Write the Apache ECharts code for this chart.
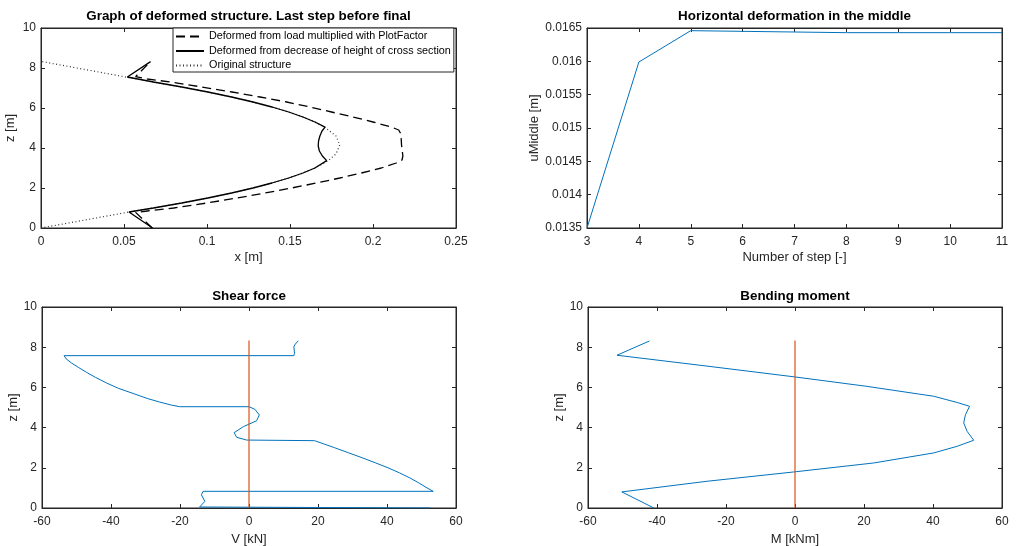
<!DOCTYPE html>
<html><head><meta charset="utf-8">
<script src="https://cdn.jsdelivr.net/npm/echarts@6/dist/echarts.min.js"></script>
<style>html,body{margin:0;padding:0;background:#fff}#c{width:1018px;height:546px}</style>
</head><body><div id="c"></div>
<script>
// ---------- Top-left: deformed structure ----------
const origZ = [0, 0.8, 1.0, 1.25, 1.5, 1.75, 2.0, 2.25, 2.5, 2.75, 3.0, 3.35, 3.7, 4.15, 4.6, 5.05, 5.3, 5.55, 5.8, 6.05, 6.3, 6.55, 6.8, 7.05, 7.3, 7.52, 8.33];
const origX = [0, 0.053, 0.0677, 0.0848, 0.1005, 0.1148, 0.1277, 0.1391, 0.1492, 0.1578, 0.165, 0.1728, 0.1777, 0.18, 0.1777, 0.1708, 0.165, 0.1578, 0.1492, 0.1391, 0.1277, 0.1148, 0.1005, 0.0848, 0.0677, 0.053, 0];
const solidZ = [0, 0.8, 1.0, 1.25, 1.5, 1.75, 2.0, 2.25, 2.5, 2.75, 3.0, 3.37, 3.6, 3.85, 4.1, 4.35, 4.6, 4.85, 5.04, 5.3, 5.55, 5.8, 6.05, 6.3, 6.55, 6.8, 7.05, 7.3, 7.55, 8.32];
const solidX = [0.0672, 0.053, 0.0677, 0.0848, 0.1005, 0.1148, 0.1277, 0.1391, 0.1492, 0.1578, 0.165, 0.1721, 0.1695, 0.1677, 0.167, 0.1672, 0.168, 0.1693, 0.1711, 0.165, 0.1578, 0.1492, 0.1391, 0.1277, 0.1148, 0.1005, 0.0848, 0.0677, 0.052, 0.066];
const dashZ = [0, 0.78, 0.85, 1.0, 1.25, 1.5, 1.75, 2.0, 2.25, 2.5, 2.75, 3.0, 3.25, 3.4, 3.6, 4.15, 4.7, 4.9, 5.05, 5.3, 5.55, 5.8, 6.05, 6.3, 6.55, 6.8, 7.05, 7.3, 7.45, 7.57, 8.32];
const dashX = [0.067, 0.057, 0.064, 0.08, 0.1, 0.118, 0.135, 0.151, 0.166, 0.18, 0.193, 0.205, 0.214, 0.2175, 0.218, 0.2172, 0.2168, 0.2155, 0.211, 0.2, 0.188, 0.175, 0.162, 0.148, 0.132, 0.115, 0.097, 0.078, 0.064, 0.057, 0.066];
// ---------- Top-right: horizontal deformation ----------
const steps = [3, 4, 5, 6, 7, 8, 9, 10, 11];
const uMiddle = [0.0135, 0.01599, 0.01646, 0.01645, 0.01644, 0.01643, 0.01643, 0.01643, 0.01643];
// ---------- Bottom-left: shear force ----------
const shearZ = [8.32, 8.15, 8.02, 7.7, 7.58, 7.58, 7.42, 7.22, 7.0, 6.75, 6.5, 6.22, 5.95, 5.7, 5.45, 5.27, 5.12, 5.04, 5.04, 4.91, 4.63, 4.34, 4.05, 3.75, 3.52, 3.38, 3.35, 3.2, 3.0, 2.75, 2.5, 2.25, 2.0, 1.75, 1.5, 1.25, 1.0, 0.83, 0.83, 0.66, 0.33, 0.05, 0, 0];
const shearV = [14.3, 13.4, 13.0, 13.2, 13.0, -53.6, -53.0, -51.5, -49.5, -47.1, -44.5, -41.3, -37.8, -33.6, -29.5, -25.9, -22.5, -20.1, 0, 1.7, 3.0, 2.2, -1.6, -4.3, -3.6, -0.7, 19.0, 21.5, 24.8, 28.8, 32.8, 36.6, 40.3, 43.6, 46.6, 49.2, 51.6, 53.4, -13.3, -13.8, -12.8, -14.3, -14.3, 52.5];
const zeroZ = [0, 8.33];
const zeroV = [0, 0];
// ---------- Bottom-right: bending moment ----------
const momZ = [8.31, 7.6, 7.06, 6.52, 6.06, 5.56, 5.25, 5.06, 4.64, 4.23, 3.81, 3.37, 3.07, 2.74, 2.24, 1.8, 1.33, 0.8, 0];
const momM = [-42.2, -51.6, -25.5, 0, 20.5, 40.2, 47.0, 50.6, 49.4, 48.9, 49.9, 51.8, 47.0, 40.2, 22.8, 0, -25.5, -50.2, -40.9];

const titles = ['Graph of deformed structure. Last step before final', 'Horizontal deformation in the middle', 'Shear force', 'Bending moment'];
const legendNames = ['Deformed from load multiplied with PlotFactor', 'Deformed from decrease of height of cross section', 'Original structure'];

const zip = (xs, ys) => xs.map((x, i) => [x, ys[i]]);
const FONT = '"Liberation Sans", Arial, Helvetica, sans-serif';
const AX = '#262626';
const BLUE = '#0072BD', ORANGE = '#D95319';
const fmt = v => String(+(+v).toFixed(6));

const grids = [
  {left: 41, top: 28, width: 415, height: 200},
  {left: 587, top: 28, width: 415, height: 200},
  {left: 42, top: 307, width: 414, height: 201},
  {left: 588, top: 307, width: 414, height: 201}
];
const xSpec = [
  {min: 0, max: 0.25, interval: 0.05, name: 'x [m]', gap: 23},
  {min: 3, max: 11, interval: 1, name: 'Number of step [-]', gap: 23},
  {min: -60, max: 60, interval: 20, name: 'V [kN]', gap: 25},
  {min: -60, max: 60, interval: 20, name: 'M [kNm]', gap: 25}
];
const ySpec = [
  {min: 0, max: 10, interval: 2, name: 'z [m]', gap: 24},
  {min: 0.0135, max: 0.0165, interval: 0.0005, name: 'uMiddle [m]', gap: 43},
  {min: 0, max: 10, interval: 2, name: 'z [m]', gap: 22},
  {min: 0, max: 10, interval: 2, name: 'z [m]', gap: 22}
];
const axisCommon = (mirror) => ({
  type: 'value',
  axisLine: {show: true, onZero: false, lineStyle: {color: AX, width: 1}},
  axisTick: {show: true, inside: true, length: 4, lineStyle: {color: AX, width: 1}},
  axisLabel: {show: !mirror, color: AX, fontSize: 12, fontFamily: FONT, formatter: fmt},
  splitLine: {show: false}
});
const xAxes = [], yAxes = [];
grids.forEach((g, i) => {
  const xs = xSpec[i], ys = ySpec[i];
  xAxes.push(Object.assign(axisCommon(false), {gridIndex: i, position: 'bottom', min: xs.min, max: xs.max, interval: xs.interval,
    name: xs.name, nameLocation: 'middle', nameGap: xs.gap, nameTextStyle: {color: AX, fontSize: 13, fontFamily: FONT}}));
  xAxes[xAxes.length - 1].axisLabel.margin = 8;
  xAxes.push(Object.assign(axisCommon(true), {gridIndex: i, position: 'top', min: xs.min, max: xs.max, interval: xs.interval}));
  yAxes.push(Object.assign(axisCommon(false), {gridIndex: i, position: 'left', min: ys.min, max: ys.max, interval: ys.interval,
    name: ys.name, nameLocation: 'middle', nameGap: ys.gap, nameTextStyle: {color: AX, fontSize: 13, fontFamily: FONT}}));
  yAxes[yAxes.length - 1].axisLabel.margin = 5;
  yAxes.push(Object.assign(axisCommon(true), {gridIndex: i, position: 'right', min: ys.min, max: ys.max, interval: ys.interval}));
});
const line = (name, gi, data, color, width, type) => ({
  name, type: 'line', xAxisIndex: gi * 2, yAxisIndex: gi * 2, data, symbol: 'none', showSymbol: false,
  lineStyle: {color, width, type: type || 'solid'}, itemStyle: {color}, z: 3
});
const series = [
  line(legendNames[2], 0, zip(origX, origZ), '#333', 1.2, [1, 2.5]),
  line(legendNames[0], 0, zip(dashX, dashZ), '#000', 1.3, [9, 5]),
  line(legendNames[1], 0, zip(solidX, solidZ), '#000', 1.3),
  line('uMiddle', 1, zip(steps, uMiddle), BLUE, 1),
  line('V', 2, zip(shearV, shearZ), BLUE, 1),
  line('zeroV', 2, zip(zeroV, zeroZ), ORANGE, 1.2),
  line('M', 3, zip(momM, momZ), BLUE, 1),
  line('zeroM', 3, zip(zeroV, zeroZ), ORANGE, 1.2)
];
const titleCenters = [[248.5, 16.5], [794.5, 16.5], [249, 296], [795, 296]];
const graphic = titles.map((t, i) => ({
  type: 'text', x: titleCenters[i][0], y: titleCenters[i][1],
  style: {text: t, fill: '#000', font: 'bold 13.4px ' + FONT, align: 'center', verticalAlign: 'middle'}
}));
const chart = echarts.init(document.getElementById('c'), null, {renderer: 'canvas'});
chart.setOption({
  backgroundColor: '#fff',
  animation: false,
  grid: grids.map(g => Object.assign({show: true, borderColor: AX, borderWidth: 1, backgroundColor: '#fff', outerBoundsMode: 'none', containLabel: false}, g)),
  xAxis: xAxes,
  yAxis: yAxes,
  legend: {
    orient: 'vertical', left: 173, top: 28, data: legendNames, selectedMode: false,
    itemWidth: 28, itemHeight: 12, itemGap: 3.5, padding: [3, 3, 1, 2],
    itemStyle: {color: 'rgba(0,0,0,0)', borderColor: 'rgba(0,0,0,0)', borderWidth: 0, opacity: 0},
    borderColor: AX, borderWidth: 1, backgroundColor: '#fff',
    textStyle: {fontSize: 10.8, color: '#000', fontFamily: FONT}
  },
  graphic,
  series
});
</script></body></html>
